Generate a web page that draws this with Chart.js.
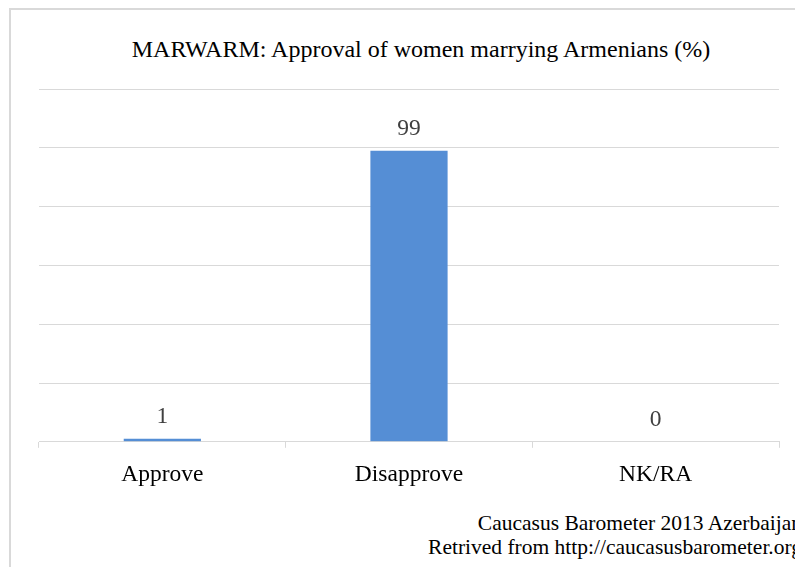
<!DOCTYPE html>
<html>
<head>
<meta charset="utf-8">
<script src="https://cdn.jsdelivr.net/npm/chart.js@4/dist/chart.umd.min.js"></script>
<style>
    html, body { margin: 0; padding: 0; background: #fff; overflow: hidden; }
    body { width: 795px; height: 567px; position: relative; }
    .chartBox {
        position: absolute; left: 9px; top: 8px;
        width: 820px; height: 600px;
        border: 2px solid #d9d9d9; background: #fff;
    }
    .chartTitle {
        position: absolute; left: 0; top: 26px; width: 820px;
        text-align: center; font: 24px "Liberation Serif", serif; color: #000;
    }
    .source {
        position: absolute; right: 29px; font: 21.5px "Liberation Serif", serif;
        color: #000; white-space: nowrap; text-align: right;
    }
    canvas { position: absolute; left: 0; top: 0; }
</style>
</head>
<body>
<div class="chartBox">
    <div class="chartTitle">MARWARM: Approval of women marrying Armenians (%)</div>
    <canvas id="myChart" width="820" height="492"></canvas>
    <div class="source" style="top: 501px;">Caucasus Barometer 2013 Azerbaijan</div>
    <div class="source" style="top: 525px;">Retrived from http://caucasusbarometer.org</div>
</div>
<script>
'use strict';

const categories = ['Approve', 'Disapprove', 'NK/RA'];
const values = [1, 99, 0];
const yTicks = [0, 20, 40, 60, 80, 100, 120];

/* value labels above bars */
const valueLabels = {
    id: 'valueLabels',
    afterDatasetsDraw(chart) {
        const ctx = chart.ctx;
        const meta = chart.getDatasetMeta(0);
        ctx.save();
        ctx.font = '23.5px "Liberation Serif", serif';
        ctx.fillStyle = '#404040';
        ctx.textAlign = 'center';
        ctx.textBaseline = 'middle';
        meta.data.forEach(function(bar, i) {
            ctx.fillText(String(values[i]), bar.x, bar.y - 22);
        });
        ctx.restore();
    }
};

const ctx = document.getElementById('myChart').getContext('2d');

const chart = new Chart(ctx, {
    type: 'bar',
    data: {
        labels: categories,
        datasets: [{
            data: values,
            backgroundColor: '#558ed5',
            borderWidth: 0,
            categoryPercentage: 0.313,
            barPercentage: 1
        }]
    },
    options: {
        responsive: false,
        animation: false,
        layout: { padding: { left: 28, right: 52, top: 79, bottom: 0 } },
        plugins: {
            legend: { display: false },
            title: { display: false },
            tooltip: { enabled: false }
        },
        scales: {
            x: {
                grid: { drawOnChartArea: false, drawTicks: true, tickLength: 6, color: '#d9d9d9', offset: true },
                border: { color: '#d9d9d9', width: 1 },
                ticks: {
                    color: '#000',
                    font: { family: '"Liberation Serif", serif', size: 23.5 },
                    padding: 13
                }
            },
            y: {
                min: yTicks[0],
                max: yTicks[yTicks.length - 1],
                afterBuildTicks: function(axis) {
                    axis.ticks = yTicks.map(function(v) { return { value: v }; });
                },
                grid: { color: '#d9d9d9', drawTicks: false },
                border: { display: false },
                ticks: { display: false }
            }
        }
    },
    plugins: [valueLabels]
});
</script>
</body>
</html>
